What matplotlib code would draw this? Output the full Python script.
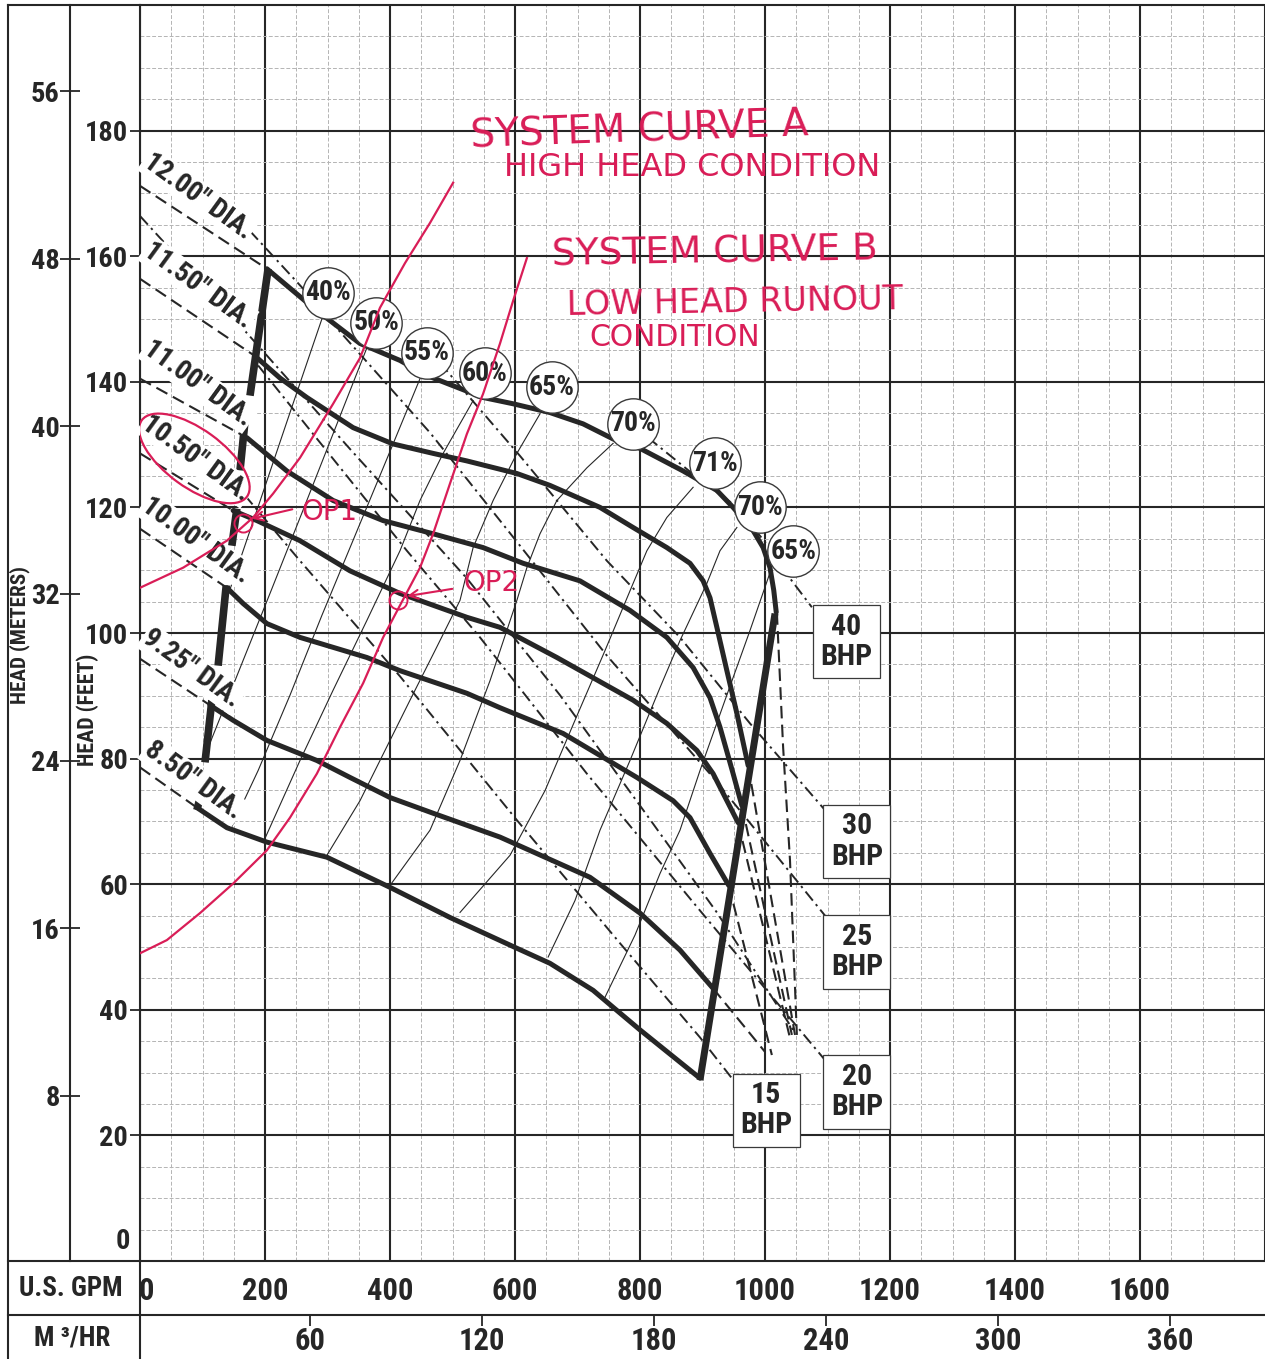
"""
Pump performance curve (multi-diameter) with two hand-drawn system curves.
Writes out.png
"""
import matplotlib
matplotlib.use("Agg")
import matplotlib.pyplot as plt
from matplotlib import font_manager, transforms
from matplotlib.lines import Line2D
from matplotlib.patches import Ellipse


# fonts: a narrow face looks closest to the condensed catalogue type
def _pick_font():
    fl = font_manager.fontManager.ttflist
    names = {f.name for f in fl}
    for n, k in (("Liberation Sans Narrow", 1.0), ("Roboto Condensed", 1.05),
                 ("Open Sans Condensed", 0.9), ("Noto Sans Condensed", 0.9)):
        if n in names:
            return n, None, k
    for n in ("DejaVu Sans", "Noto Sans", "Open Sans", "Roboto"):
        if any(f.name == n and f.stretch in ("condensed", "semi-condensed", "extra-condensed")
               for f in fl):
            return n, "condensed", 0.82
    return "DejaVu Sans", None, 0.74


FONT, STRETCH, FS = _pick_font()
plt.rcParams["font.family"] = [FONT, "DejaVu Sans"]
if STRETCH:
    plt.rcParams["font.stretch"] = STRETCH

INK = "#262626"
RED = "#d91d57"
MINOR = "#b4b4b4"

# ---- axes / ticks ----------------------------------------------------------
GPM_TICKS = [0, 200, 400, 600, 800, 1000, 1200, 1400, 1600]
FT_TICKS = [20, 40, 60, 80, 100, 120, 140, 160, 180]
M_TICKS = [8, 16, 24, 32, 40, 48, 56]
M3H_TICKS = [60, 120, 180, 240, 300, 360]

# ---- impeller head curves (US GPM, feet) -----------------------------------
DIA_LABELS = ['12.00" DIA.', '11.50" DIA.', '11.00" DIA.', '10.50" DIA.',
              '10.00" DIA.', '9.25" DIA.', '8.50" DIA.']
LABEL_Q = [93, 93, 93, 90, 90, 82, 85]
LABEL_H = [169.6, 155.3, 139.7, 127.8, 114.7, 94.3, 76.5]
SHUTOFF_H = [171.2, 156.4, 140.5, 128.6, 116.6, 95.9, 78.6]

Q_1200 = [203, 277, 352, 416, 459, 549, 597, 656, 709, 757, 800, 869, 923, 949, 981, 997, 1008, 1014, 1018]
H_1200 = [158.0, 151.8, 146.1, 143.4, 141.0, 137.5, 136.5, 135.1, 133.3, 130.9, 129.4, 125.8, 122.7,
          120.0, 116.3, 113.6, 110.4, 106.8, 103.3]
Q_1150 = [184, 224, 267, 341, 405, 469, 523, 603, 656, 736, 789, 843, 880, 901, 912, 923, 939, 955, 973]
H_1150 = [144.1, 140.6, 137.5, 132.7, 130.1, 128.6, 127.4, 125.4, 123.5, 120.0, 116.8, 113.6, 111.1,
          108.3, 105.6, 100.9, 94.0, 87.2, 78.9]
Q_1100 = [171, 235, 309, 389, 469, 549, 613, 704, 784, 843, 885, 912, 928, 949, 963]
H_1100 = [131.1, 125.8, 121.1, 117.9, 115.8, 113.6, 111.1, 108.3, 103.6, 99.3, 94.5, 89.7, 85.0, 77.6, 72.5]
Q_1050 = [149, 187, 256, 336, 416, 523, 576, 667, 789, 843, 891, 917, 939, 957]
H_1050 = [119.5, 117.9, 114.7, 109.9, 106.3, 102.5, 100.9, 96.1, 89.3, 85.6, 81.3, 77.6, 73.3, 69.8]
Q_1000 = [139, 165, 203, 256, 363, 416, 523, 576, 677, 795, 853, 880, 912, 942]
H_1000 = [107.2, 104.7, 101.5, 99.3, 96.1, 94.0, 90.4, 88.1, 84.0, 77.0, 73.3, 70.6, 64.9, 59.8]
Q_925 = [112, 149, 203, 283, 336, 400, 469, 576, 720, 800, 864, 917]
H_925 = [88.5, 86.1, 82.9, 79.7, 77.0, 73.8, 71.3, 67.5, 61.1, 55.4, 49.5, 43.4]
Q_850 = [91, 139, 203, 299, 400, 496, 603, 656, 725, 757, 800, 896]
H_850 = [72.2, 69.0, 66.7, 64.3, 59.5, 54.7, 49.8, 47.4, 43.1, 40.4, 36.8, 29.1]

HEAD_Q = [Q_1200, Q_1150, Q_1100, Q_1050, Q_1000, Q_925, Q_850]
HEAD_H = [H_1200, H_1150, H_1100, H_1050, H_1000, H_925, H_850]

# minimum-flow boundary (drawn in broken pieces) and end-of-curve line
MINFLOW_Q = [[205, 176], [170, 160], [155, 147], [138, 125], [115, 104], [96, 91]]
MINFLOW_H = [[158.0, 137.8], [135.7, 125.9], [119.8, 113.9], [107.6, 94.8], [89.3, 79.4], [73.7, 71.8]]
RUNOUT_Q = [1016, 896]
RUNOUT_H = [103.1, 28.8]

# dashed continuations past the end-of-curve line
FAN_Q = [[1019, 1029, 1040, 1051], [973, 1048], [963, 1043], [957, 1040], [942, 1011], [917, 1000]]
FAN_H = [[103.3, 81.8, 63.8, 36.0], [78.9, 36.0], [72.5, 36.0], [69.8, 35.5], [59.8, 32.8], [43.4, 33.3]]

# ---- brake horsepower lines ------------------------------------------------
BHP_Q = [
    [813, 896, 952, 1005, 1040, 1075],                   # 40
    [480, 608, 747, 864, 976, 1096],                     # 30
    [176, 264, 309, 464, 608, 747, 917, 1096],           # 25
    [0, 168, 336, 523, 672, 811, 923, 1045],             # to the fan
    [189, 427, 544, 715, 896, 1096],                     # 20
    [168, 256, 416, 603, 768, 896, 947],                 # 15
]
BHP_H = [
    [131.1, 124.4, 120.3, 113.9, 108.7, 104.1],
    [143.0, 128.2, 111.5, 99.3, 85.6, 71.8],
    [164.0, 154.5, 149.2, 131.9, 113.9, 96.4, 77.0, 55.0],
    [166.4, 148.1, 129.3, 108.7, 90.1, 71.0, 55.5, 36.8],
    [142.6, 113.1, 99.3, 77.6, 55.8, 32.0],
    [121.9, 111.5, 93.1, 70.2, 50.6, 35.6, 29.1],
]
BOX_LABELS = ["40", "30", "25", "20", "15"]
BOX_Q = [1130, 1147, 1147, 1147, 1002]
BOX_H = [98.6, 66.8, 49.2, 26.9, 24.0]

# ---- efficiency lines ------------------------------------------------------
EFF_LABELS = ["40%", "50%", "55%", "60%", "65%", "70%", "71%", "70%", "65%"]
EFF_Q = [301, 378, 459, 552, 659, 789, 920, 992, 1045]
EFF_H = [154.2, 149.4, 144.6, 141.4, 139.1, 133.3, 127.0, 120.0, 113.0]
ISO_Q = [
    [291, 240, 189, 138],
    [363, 312, 261, 210, 158, 104],
    [448, 397, 344, 291, 240, 189, 147],
    [533, 485, 448, 416, 363, 309, 256, 200],
    [640, 603, 565, 533, 512, 472, 432, 392, 352, 299],
    [757, 715, 667, 640, 619, 603, 560, 512, 464, 400],
    [885, 843, 811, 789, 744, 696, 648, 592, 512],
    [955, 928, 907, 864, 832, 784, 736, 696, 653],
    [1008, 976, 936, 896, 864, 832, 792, 744],
]
ISO_H = [
    [150.0, 135.1, 120.1, 105.2],
    [145.4, 132.5, 119.6, 106.8, 93.9, 80.5],
    [140.5, 128.2, 115.5, 102.8, 90.1, 78.1, 69.2],
    [137.0, 128.6, 121.1, 113.1, 102.0, 90.9, 79.7, 67.3],
    [134.9, 128.6, 121.1, 113.6, 105.2, 97.2, 89.3, 81.3, 73.3, 64.6],
    [130.2, 126.3, 121.1, 115.8, 110.4, 105.2, 92.4, 79.7, 68.6, 59.8],
    [123.2, 118.4, 113.1, 107.9, 97.2, 86.1, 74.9, 64.6, 55.5],
    [116.8, 113.1, 107.9, 98.8, 91.3, 79.7, 68.6, 57.4, 48.4],
    [109.6, 100.4, 89.3, 78.1, 68.6, 61.7, 51.9, 42.0],
]

# ---- red hand annotations --------------------------------------------------
SYS_A_Q = [0, 69, 139, 181, 213, 256, 309, 352, 384, 424, 464, 501]
SYS_A_H = [107.2, 110.4, 114.7, 118.4, 122.2, 127.9, 136.5, 143.8, 151.8, 158.9, 165.3, 171.7]
SYS_B_Q = [0, 43, 96, 149, 203, 240, 283, 320, 357, 389, 416, 448, 469, 496, 523, 549, 576, 597, 619]
SYS_B_H = [49.0, 51.1, 55.4, 60.1, 65.4, 70.6, 77.6, 85.0, 92.0, 99.3, 104.4, 110.4, 115.8, 123.8,
           131.7, 138.1, 146.1, 152.9, 159.7]
NOTES = ["SYSTEM CURVE A", "HIGH HEAD CONDITION", "SYSTEM CURVE B", "LOW HEAD RUNOUT", "CONDITION"]
NOTE_Q = [800, 883, 920, 952, 856]
NOTE_H = [180.0, 174.1, 160.5, 152.6, 147.0]
NOTE_ROT = [2, 0, 1, 1, 0]
NOTE_SIZE = [28, 23, 27, 24, 21.5]
OP_LABELS = ["OP1", "OP2"]
OP_Q = [165, 413]
OP_H = [117.5, 105.2]
OP_TAIL_Q = [248, 504]
OP_TAIL_H = [119.8, 107.1]
OP_TEXT_Q = [304, 563]
OP_TEXT_H = [119.2, 108.0]

# ---- figure ----------------------------------------------------------------
W, H = 1265, 1359
fig = plt.figure(figsize=(W / 100, H / 100), dpi=100)
fig.patch.set_facecolor("white")


def fx(px):
    return px / W


def fy(py):
    return 1 - py / H


TICK_FS = 19.5 * FS
L = fx(140)
ax = fig.add_axes([L, fy(1261), 1 - L, fy(5) - fy(1261)])
ax.set_xlim(0, 1800)
ax.set_ylim(0, 200)
ax.set_xticks(range(0, 1801, 200))
ax.set_xticks(range(0, 1801, 50), minor=True)
ax.set_yticks(FT_TICKS)
ax.set_yticklabels([str(v) for v in FT_TICKS], fontweight="bold")
ax.set_yticks(range(0, 201, 5), minor=True)
ax.tick_params(axis="x", which="both", length=0, labelbottom=False)
ax.tick_params(axis="y", which="major", direction="out", length=7, width=1.3,
               labelsize=TICK_FS, pad=1.5, colors=INK)
ax.tick_params(axis="y", which="minor", length=0)
ax.grid(which="major", color=INK, lw=1.5)
ax.grid(which="minor", color=MINOR, lw=0.7, ls=(0, (4, 2)))
ax.set_axisbelow(True)
ax.spines["right"].set_visible(False)
for s in ("left", "top", "bottom"):
    ax.spines[s].set_linewidth(1.5)
    ax.spines[s].set_color(INK)
ax.annotate("0", xy=(0, 0), xytext=(-7, 4), textcoords="offset points", ha="right",
            va="bottom", fontsize=TICK_FS, fontweight="bold", color=INK, annotation_clip=False)

# efficiency lines
for q, h in zip(ISO_Q, ISO_H):
    ax.plot(q, h, color=INK, lw=0.8, zorder=2)

# BHP lines
for q, h in zip(BHP_Q, BHP_H):
    ax.plot(q, h, color=INK, lw=1.4, dashes=(6, 2.4, 1.2, 2.4), zorder=2.5)

# head curves with dashed shut-off extension
for q, h, h0 in zip(HEAD_Q, HEAD_H, SHUTOFF_H):
    ax.plot([0, q[0]], [h0, h[0]], color=INK, lw=1.5, dashes=(6, 3), zorder=3)
    ax.plot(q, h, color=INK, lw=3.6, solid_capstyle="round", solid_joinstyle="round", zorder=4)

for q, h in zip(FAN_Q, FAN_H):
    ax.plot(q, h, color=INK, lw=1.5, dashes=(6, 3), zorder=3)

for q, h in zip(MINFLOW_Q, MINFLOW_H):
    ax.plot(q, h, color=INK, lw=5.5, solid_capstyle="butt", zorder=4.5)
ax.plot(RUNOUT_Q, RUNOUT_H, color=INK, lw=5.0, solid_capstyle="butt", zorder=4.5)

for lab, q, h in zip(DIA_LABELS, LABEL_Q, LABEL_H):
    ax.text(q, h, lab, rotation=-36, rotation_mode="anchor", ha="center", va="center",
            fontsize=19 * FS, fontweight="bold", color=INK, zorder=5,
            bbox=dict(boxstyle="square,pad=0.05", fc="white", ec="none"))

# efficiency bubbles
ax.plot(EFF_Q, EFF_H, "o", ms=37, mfc="white", mec="#3a3a3a", mew=1.0, zorder=6)
for lab, q, h in zip(EFF_LABELS, EFF_Q, EFF_H):
    ax.text(q, h, lab, ha="center", va="center", fontsize=19 * FS, fontweight="bold",
            color=INK, zorder=6.5)

for lab, q, h in zip(BOX_LABELS, BOX_Q, BOX_H):
    ax.text(q, h, lab + "\nBHP", ha="center", va="center", fontsize=20.5 * FS,
            fontweight="bold", color=INK, linespacing=1.1, zorder=7,
            bbox=dict(boxstyle="square,pad=0.25", fc="white", ec="#3a3a3a", lw=0.9))

# red mark-up
ax.plot(SYS_A_Q, SYS_A_H, color=RED, lw=1.6, zorder=8)
ax.plot(SYS_B_Q, SYS_B_H, color=RED, lw=1.6, zorder=8)
for txt, q, h, r, s in zip(NOTES, NOTE_Q, NOTE_H, NOTE_ROT, NOTE_SIZE):
    ax.text(q, h, txt, ha="center", va="center", rotation=r, fontsize=s,
            family="DejaVu Sans", stretch="normal", color=RED, zorder=8)
ax.plot(OP_Q, OP_H, "o", ms=13, mfc="none", mec=RED, mew=1.4, zorder=8)
for lab, q, h, tq, th, lq, lh in zip(OP_LABELS, OP_Q, OP_H, OP_TAIL_Q, OP_TAIL_H,
                                     OP_TEXT_Q, OP_TEXT_H):
    ax.annotate("", xy=(q + 10, h + 0.6), xytext=(tq, th),
                arrowprops=dict(arrowstyle="->", color=RED, lw=1.5, mutation_scale=16), zorder=8)
    ax.text(lq, lh, lab, ha="center", va="center", fontsize=20, family="DejaVu Sans",
            stretch="normal", color=RED, zorder=8)

ring = transforms.ScaledTranslation(LABEL_Q[3] - 3, LABEL_H[3], ax.transData)
ax.add_patch(Ellipse((0, 0), 1.3, 0.58, angle=-36, transform=fig.dpi_scale_trans + ring,
                     fill=False, ec=RED, lw=1.6, zorder=8))

# ---- metre scale -----------------------------------------------------------
axm = fig.add_axes([fx(8), fy(1261), fx(138) - fx(8), fy(5) - fy(1261)])
axm.patch.set_alpha(0)
axm.set_xlim(0, 1)
axm.set_ylim(0.1, 60.13)
for s in ("top", "right", "bottom"):
    axm.spines[s].set_visible(False)
axm.spines["left"].set_position(("axes", (70 - 8) / 130))
axm.spines["left"].set_linewidth(1.5)
axm.spines["left"].set_color(INK)
axm.set_xticks([])
axm.set_yticks(M_TICKS)
axm.set_yticklabels([str(v) for v in M_TICKS], fontweight="bold")
axm.tick_params(axis="y", direction="inout", length=14, width=1.3, labelsize=TICK_FS,
                pad=0.5, colors=INK)

fig.text(fx(20), fy(635), "HEAD (METERS)", rotation=90, ha="center", va="center",
         fontsize=14.5 * FS, fontweight="bold", color=INK)
fig.text(fx(88), fy(710), "HEAD (FEET)", rotation=90, ha="center", va="center",
         fontsize=15 * FS, fontweight="bold", color=INK)

# ---- flow scales under the grid --------------------------------------------
axg = fig.add_axes([L, fy(1315), 1 - L, fy(1261) - fy(1315)])
axg.set_xlim(0, 1800)
axg.set_ylim(0, 1)
axg.axis("off")
for g in GPM_TICKS:
    axg.text(g if g else 10, 0.45, str(g), ha="center", va="center", fontsize=21 * FS,
             fontweight="bold", color=INK)

axq = fig.add_axes([L, 0, 1 - L, fy(1315)])
axq.patch.set_alpha(0)
axq.set_xlim(0.7, 393.1)
axq.set_ylim(0, 1)
for s in axq.spines.values():
    s.set_visible(False)
axq.set_yticks([])
axq.xaxis.tick_top()
axq.set_xticks(M3H_TICKS)
axq.tick_params(axis="x", direction="in", length=8, width=1.3, labeltop=False, colors=INK)
for q in M3H_TICKS:
    axq.text(q, 0.4, str(q), ha="center", va="center", fontsize=21 * FS,
             fontweight="bold", color=INK)

fig.text(fx(71), fy(1288), "U.S. GPM", ha="center", va="center", fontsize=18.5 * FS,
         fontweight="bold", color=INK)
fig.text(fx(72), fy(1338), "M \u00b3/HR", ha="center", va="center", fontsize=18.5 * FS,
         fontweight="bold", color=INK)

# frame lines of the printed sheet
FRAME = [((8, 5), (8, 1359)), ((8, 5), (140, 5)), ((8, 1261), (140, 1261)),
         ((8, 1315), (1265, 1315)), ((140, 1261), (140, 1359))]
for (x0, y0), (x1, y1) in FRAME:
    fig.add_artist(Line2D([fx(x0), fx(x1)], [fy(y0), fy(y1)], color=INK, lw=1.5))

fig.savefig("out.png", dpi=100)
